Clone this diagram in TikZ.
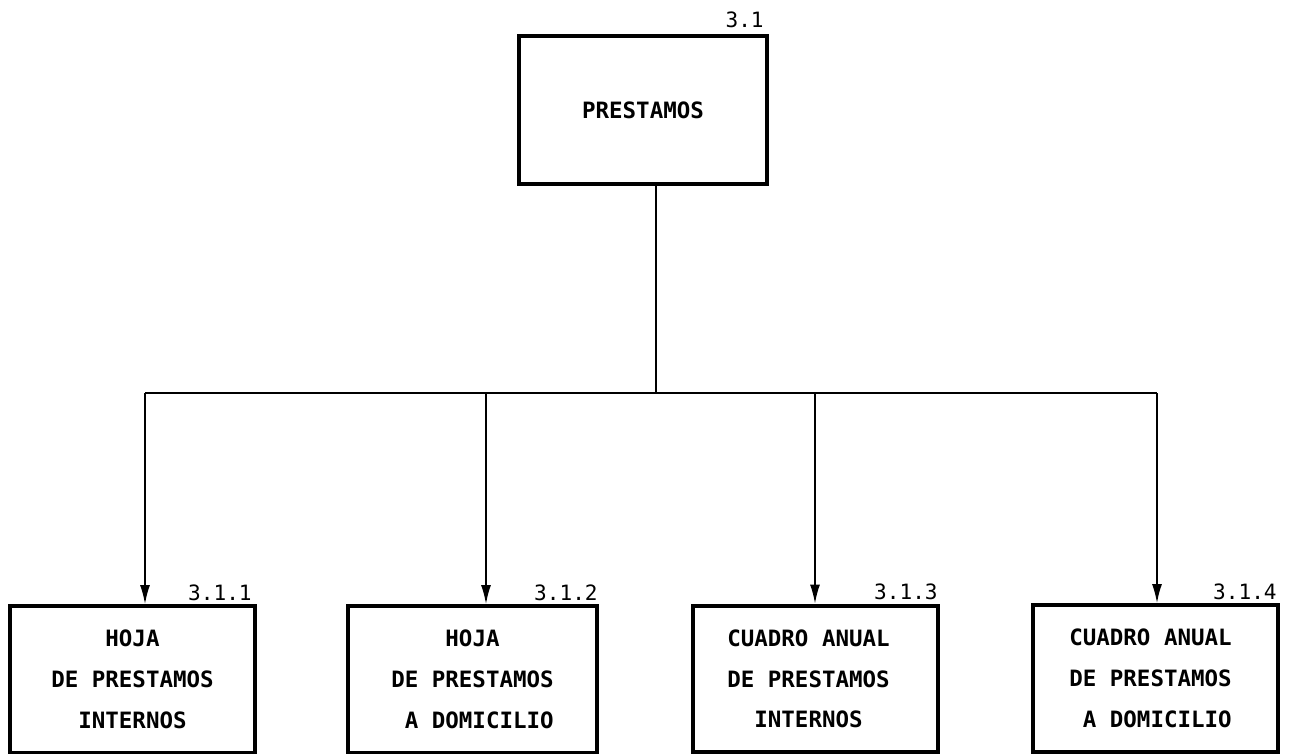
\documentclass[tikz,border=0pt]{standalone}
\usepackage{fontspec}
\newfontfamily\plotfont{DejaVu Sans Mono}
\usetikzlibrary{arrows.meta}
\begin{document}
\begin{tikzpicture}[x=0.02cm,y=-0.02cm,
  boxnode/.style={draw, line width=2.3pt, rectangle, inner sep=0pt,
    minimum width=4.9cm, minimum height=2.94cm, align=left,
    font=\plotfont\bfseries\fontsize{12.8}{23.2}\selectfont},
  numlabel/.style={anchor=base east, inner sep=0pt,
    font=\plotfont\fontsize{12}{13}\selectfont},
  link/.style={line width=0.8pt},
  arrowlink/.style={line width=0.8pt, -{Latex[length=0.38cm,width=0.2cm]}}]
\useasboundingbox (0,0) rectangle (1296,754);
% boxes
\node[boxnode, minimum width=4.96cm, minimum height=2.96cm] (top) at (643,110) {PRESTAMOS};
\node[boxnode] (b1) at (132.5,679.5) {\hphantom{XXXX}HOJA\\DE PRESTAMOS\hspace*{0.34cm}\\\hphantom{XX}INTERNOS};
\node[boxnode, minimum width=4.98cm] (b2) at (472.5,679.5) {\hphantom{XXXX}HOJA\\DE PRESTAMOS\hspace*{0.28cm}\\\hphantom{X}A DOMICILIO};
\node[boxnode] (b3) at (815.5,679) {CUADRO ANUAL\hspace*{0.28cm}\\DE PRESTAMOS\\\hphantom{XX}INTERNOS};
\node[boxnode] (b4) at (1155.5,678.5) {CUADRO ANUAL\hspace*{0.2cm}\\DE PRESTAMOS\\\hphantom{X}A DOMICILIO};
% number labels
\node[numlabel] (n0) at ([xshift=-0.1cm,yshift=0.12cm]top.north east) {3.1};
\node[numlabel] (n1) at ([xshift=-0.1cm,yshift=0.08cm]b1.north east) {3.1.1};
\node[numlabel] (n2) at ([xshift=-0.02cm,yshift=0.08cm]b2.north east) {3.1.2};
\node[numlabel] (n3) at ([xshift=-0.04cm,yshift=0.08cm]b3.north east) {3.1.3};
\node[numlabel] (n4) at ([xshift=-0.06cm,yshift=0.08cm]b4.north east) {3.1.4};
% connectors
\coordinate (j) at (656,393);
\coordinate (c1) at (145,393);
\coordinate (c2) at (486,393);
\coordinate (c3) at (815,393);
\coordinate (c4) at (1157,393);
\draw[link] (top.south -| j) -- (j);
\draw[link] (c1) -- (c4);
\draw[arrowlink] (c1) -- (c1 |- b1.north);
\draw[arrowlink] (c2) -- (c2 |- b2.north);
\draw[arrowlink] (c3) -- (c3 |- b3.north);
\draw[arrowlink] (c4) -- (c4 |- b4.north);
\end{tikzpicture}
\end{document}
